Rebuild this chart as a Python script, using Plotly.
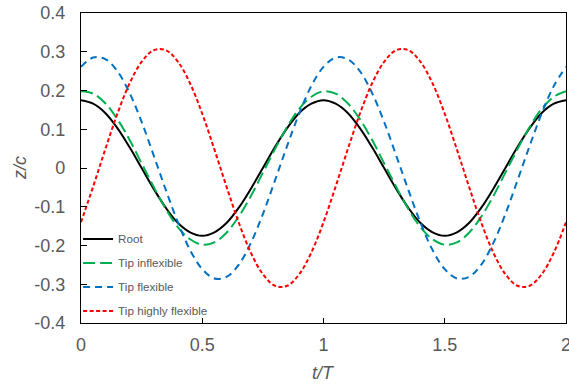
import plotly.graph_objects as go

# Normalised time t/T (two flapping cycles)
t = [0.00, 0.05, 0.10, 0.15, 0.20, 0.25, 0.30, 0.35, 0.40, 0.45,
     0.50, 0.55, 0.60, 0.65, 0.70, 0.75, 0.80, 0.85, 0.90, 0.95,
     1.00, 1.05, 1.10, 1.15, 1.20, 1.25, 1.30, 1.35, 1.40, 1.45,
     1.50, 1.55, 1.60, 1.65, 1.70, 1.75, 1.80, 1.85, 1.90, 1.95, 2.00]

# Heave displacement z/c
root = [0.175, 0.166, 0.142, 0.103, 0.054, 0.000, -0.054, -0.103, -0.142, -0.166,
        -0.175, -0.166, -0.142, -0.103, -0.054, 0.000, 0.054, 0.103, 0.142, 0.166,
        0.175, 0.166, 0.142, 0.103, 0.054, 0.000, -0.054, -0.103, -0.142, -0.166,
        -0.175, -0.166, -0.142, -0.103, -0.054, 0.000, 0.054, 0.103, 0.142, 0.166, 0.175]

tip_inflexible = [0.198, 0.192, 0.167, 0.126, 0.073, 0.012, -0.049, -0.106, -0.153, -0.184,
                  -0.198, -0.192, -0.167, -0.126, -0.073, -0.012, 0.049, 0.106, 0.153, 0.184,
                  0.198, 0.192, 0.167, 0.126, 0.073, 0.012, -0.049, -0.106, -0.153, -0.184,
                  -0.198, -0.192, -0.167, -0.126, -0.073, -0.012, 0.049, 0.106, 0.153, 0.184, 0.198]

tip_flexible = [0.261, 0.285, 0.281, 0.250, 0.194, 0.119, 0.032, -0.057, -0.141, -0.212,
                -0.261, -0.285, -0.281, -0.250, -0.194, -0.119, -0.032, 0.057, 0.141, 0.212,
                0.261, 0.285, 0.281, 0.250, 0.194, 0.119, 0.032, -0.057, -0.141, -0.212,
                -0.261, -0.285, -0.281, -0.250, -0.194, -0.119, -0.032, 0.057, 0.141, 0.212, 0.261]

tip_highly_flexible = [-0.140, -0.048, 0.048, 0.140, 0.218, 0.274, 0.304, 0.304, 0.274, 0.218,
                       0.140, 0.048, -0.048, -0.140, -0.218, -0.274, -0.304, -0.304, -0.274, -0.218,
                       -0.140, -0.048, 0.048, 0.140, 0.218, 0.274, 0.304, 0.304, 0.274, 0.218,
                       0.140, 0.048, -0.048, -0.140, -0.218, -0.274, -0.304, -0.304, -0.274, -0.218, -0.140]

x_ticks = [0, 0.5, 1, 1.5, 2]
x_labels = ["0", "0.5", "1", "1.5", "2"]
y_ticks = [0.4, 0.3, 0.2, 0.1, 0, -0.1, -0.2, -0.3, -0.4]
y_labels = ["0.4", "0.3", "0.2", "0.1", "0", "-0.1", "-0.2", "-0.3", "-0.4"]

series = [
    ("Root", root, "#000000", "solid"),
    ("Tip inflexible", tip_inflexible, "#00B050", "12px,5px"),
    ("Tip flexible", tip_flexible, "#0070C0", "7px,5px"),
    ("Tip highly flexible", tip_highly_flexible, "#FF0000", "4px,2.5px"),
]

FONT = "Arial, Liberation Sans, sans-serif"
GREY = "#595959"

fig = go.Figure()
for name, vals, color, dash in series:
    fig.add_trace(go.Scatter(
        x=t, y=vals, mode="lines", name=name, legendgroup=name,
        line=dict(color=color, width=2, dash=dash, shape="spline"),
    ))

axis_common = dict(
    showgrid=False, zeroline=False, showline=True, linecolor="#000000",
    linewidth=1.3, mirror=True, ticks="inside", tickcolor="#000000",
    tickwidth=1.3, ticklabeloverflow="allow", automargin=False,
    tickfont=dict(family=FONT, size=18, color=GREY),
)

fig.update_xaxes(range=[0, 2], tickvals=x_ticks, ticktext=x_labels,
                 ticklen=5, ticklabelstandoff=5, **axis_common)
fig.update_yaxes(range=[-0.4, 0.4], tickvals=y_ticks, ticktext=y_labels,
                 ticklen=6, ticklabelstandoff=11, **axis_common)

fig.add_annotation(text="<i>z/c</i>", xref="paper", yref="paper", x=0, y=0.5,
                   xanchor="center", yanchor="middle",
                   xshift=-61, textangle=-90, showarrow=False,
                   font=dict(family=FONT, size=18, color=GREY))
fig.add_annotation(text="<i>t/T</i>", xref="paper", yref="paper", x=0.5, y=0,
                   xanchor="center", yanchor="middle",
                   yshift=-50, showarrow=False,
                   font=dict(family=FONT, size=18, color=GREY))

fig.update_layout(
    width=569, height=388,
    margin=dict(l=81, r=3, t=13, b=65, autoexpand=False),
    paper_bgcolor="white", plot_bgcolor="white",
    showlegend=True,
    legend=dict(x=-0.006, y=0.318, xanchor="left", yanchor="top",
                bgcolor="rgba(0,0,0,0)", traceorder="grouped",
                tracegroupgap=5, itemwidth=30,
                font=dict(family=FONT, size=11.7, color=GREY)),
)

fig.write_html("out.html")
